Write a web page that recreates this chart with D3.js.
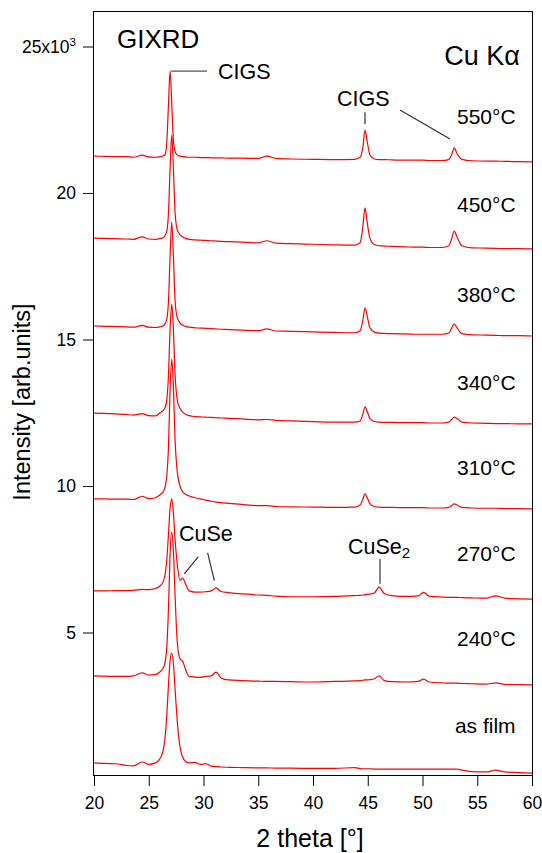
<!DOCTYPE html>
<html><head><meta charset="utf-8">
<script src="https://cdn.jsdelivr.net/npm/d3@7"></script>
<style>
body{margin:0;background:#fff}
svg{display:block}
text{font-family:"Liberation Sans",Arial,Helvetica,sans-serif;fill:#000}
</style>
</head><body><svg id="c" width="542" height="853"></svg>
<script>
// ---- data (intensity in units of 10^3 counts, curves offset as in figure) ----
const twoTheta = [20,21,22,23,23.6,24.4,25,25.6,26.0,26.3,26.5,26.65,26.8,26.95,27.1,27.25,27.4,27.6,27.85,28.1,28.35,28.7,29.2,29.7,30.2,30.7,31.15,31.6,32.3,33.5,35,35.8,36.6,38,40,42,43.8,44.3,44.55,44.75,44.95,45.2,45.6,46.05,46.5,47.2,48.5,49.6,50.1,50.6,51.8,52.4,52.65,52.9,53.15,53.6,54.5,55.8,56.7,57.5,58.8,60];

const s550 = [21.26,21.25,21.24,21.24,21.22,21.29,21.23,21.22, 21.23,21.26,21.32,21.75,23.0,24.16,23.05,21.8,21.42,21.3, 21.26,21.24,21.23,21.22,21.22,21.21,21.21,21.2,21.2,21.2, 21.19,21.19,21.18,21.26,21.18,21.16,21.15,21.14,21.15,21.22, 21.55,22.15,21.75,21.3,21.16,21.14,21.14,21.13,21.12,21.12, 21.12,21.11,21.11,21.14,21.3,21.54,21.35,21.15,21.1,21.09, 21.09,21.08,21.07,21.06];
const s450 = [18.46,18.45,18.44,18.43,18.42,18.5,18.43,18.42, 18.44,18.47,18.56,18.7,19.3,20.85,21.98,20.85,19.35,18.75, 18.58,18.5,18.45,18.42,18.4,18.39,18.38,18.37,18.36,18.35, 18.34,18.32,18.3,18.37,18.29,18.27,18.25,18.23,18.22,18.3, 18.85,19.49,19.0,18.45,18.24,18.2,18.19,18.18,18.16,18.15, 18.15,18.14,18.14,18.2,18.42,18.7,18.5,18.2,18.13,18.12, 18.11,18.1,18.1,18.09];
const s380 = [15.46,15.45,15.44,15.43,15.42,15.48,15.42,15.41, 15.43,15.46,15.55,15.7,16.3,17.85,19.01,17.85,16.35,15.75, 15.57,15.49,15.45,15.42,15.4,15.39,15.38,15.37,15.36,15.35, 15.34,15.32,15.3,15.36,15.29,15.28,15.26,15.24,15.23,15.3, 15.65,16.08,15.8,15.4,15.25,15.22,15.21,15.2,15.19,15.18, 15.18,15.18,15.18,15.22,15.38,15.53,15.4,15.2,15.16,15.15, 15.14,15.13,15.13,15.12];
const s340 = [12.49,12.48,12.46,12.44,12.42,12.47,12.4,12.39, 12.49,12.57,12.69,12.95,13.76,15.37,16.21,15.37,13.84,12.95, 12.65,12.52,12.45,12.4,12.37,12.36,12.35,12.34,12.33,12.32, 12.31,12.29,12.26,12.27,12.24,12.22,12.2,12.18,12.18,12.22, 12.45,12.7,12.55,12.3,12.2,12.18,12.17,12.17,12.16,12.16, 12.16,12.15,12.15,12.18,12.27,12.35,12.3,12.18,12.15,12.14, 12.13,12.13,12.12,12.12];
const s310 = [9.56,9.56,9.55,9.55,9.54,9.65,9.57,9.6, 9.69,9.8,9.98,10.35,11.3,13.3,14.33,13.4,11.6,10.5, 10.0,9.8,9.72,9.66,9.6,9.56,9.52,9.48,9.45,9.43, 9.41,9.37,9.33,9.33,9.3,9.29,9.28,9.27,9.28,9.35, 9.55,9.73,9.6,9.4,9.3,9.28,9.27,9.27,9.26,9.26, 9.26,9.25,9.25,9.27,9.33,9.39,9.35,9.27,9.25,9.24, 9.24,9.23,9.23,9.22];
const s270 = [6.42,6.42,6.43,6.43,6.44,6.47,6.46,6.5, 6.58,6.72,7.0,7.5,8.35,9.25,9.56,9.1,8.2,7.35, 6.78,6.86,6.66,6.42,6.38,6.38,6.39,6.42,6.52,6.4, 6.36,6.32,6.28,6.27,6.24,6.22,6.22,6.23,6.26,6.27, 6.28,6.29,6.3,6.31,6.35,6.55,6.33,6.26,6.23,6.25, 6.37,6.24,6.21,6.2,6.2,6.2,6.2,6.19,6.18,6.17, 6.25,6.17,6.15,6.14];
const s240 = [3.52,3.51,3.5,3.5,3.52,3.62,3.55,3.56, 3.65,3.78,4.0,4.5,5.8,7.7,8.43,7.8,6.3,4.7, 4.1,4.02,3.75,3.5,3.48,3.47,3.5,3.52,3.65,3.45, 3.38,3.36,3.34,3.33,3.33,3.32,3.31,3.33,3.35,3.36, 3.37,3.38,3.38,3.39,3.42,3.52,3.36,3.32,3.31,3.33, 3.41,3.31,3.28,3.27,3.27,3.27,3.27,3.26,3.25,3.24, 3.28,3.23,3.22,3.21];
const sFilm = [0.55,0.53,0.52,0.46,0.45,0.58,0.5,0.55, 0.68,0.95,1.45,2.2,3.2,4.05,4.3,3.95,3.1,2.0, 1.1,0.74,0.6,0.55,0.57,0.5,0.52,0.44,0.42,0.41, 0.4,0.39,0.38,0.38,0.37,0.37,0.36,0.36,0.39,0.36, 0.35,0.35,0.35,0.35,0.34,0.34,0.34,0.34,0.34,0.34, 0.34,0.34,0.34,0.34,0.34,0.34,0.34,0.3,0.25,0.24, 0.3,0.24,0.22,0.2];

const seriesNames = ["550°C","450°C","380°C","340°C","310°C","270°C","240°C","as film"];
const seriesValues = [s550,s450,s380,s340,s310,s270,s240,sFilm];
const xTicks = [20,25,30,35,40,45,50,55,60];
const yTicks = [5,10,15,20,25];

// ---- layout ----
const svg = d3.select("#c");
const x = d3.scaleLinear().domain([20,60]).range([94,532]);
const y = d3.scaleLinear().domain([0,25]).range([779,46.5]);
const FT = 17.5;

// frame
svg.append("rect").attr("x",93.5).attr("y",11.5).attr("width",439).attr("height",764)
  .attr("fill","none").attr("stroke","#000").attr("stroke-width",1);

// axes
const gx = svg.append("g").attr("transform","translate(0,776)")
  .call(d3.axisBottom(x).tickValues(xTicks).tickSize(10).tickPadding(11).tickFormat(d3.format("d")));
const gy = svg.append("g").attr("transform","translate(93,0)")
  .call(d3.axisLeft(y).tickValues(yTicks).tickSize(10).tickPadding(7).tickFormat(d3.format("d")));
[gx,gy].forEach(g=>{
  g.select(".domain").remove();
  g.selectAll(".tick line").attr("stroke","#000").attr("stroke-width",1);
  g.selectAll(".tick text").attr("font-size",FT).attr("font-family",null).attr("fill","#000");
});
gy.selectAll(".tick text").filter(d=>d===25).each(function(){
  const t = d3.select(this); t.text("");
  t.append("tspan").text("25x10");
  t.append("tspan").attr("dy","-0.55em").attr("font-size",11.5).text("3");
});

// axis titles
svg.append("text").attr("x",310).attr("y",847).attr("text-anchor","middle")
  .attr("font-size",25).text("2 theta [°]");
svg.append("text").attr("transform","translate(30,402) rotate(-90)").attr("text-anchor","middle")
  .attr("font-size",23.5).text("Intensity [arb.units]");

// curves
const line = d3.line().x((d,i)=>x(twoTheta[i])).y(d=>y(d)).curve(d3.curveMonotoneX);
svg.append("g").selectAll("path").data(seriesValues).join("path")
  .attr("d",line).attr("fill","none").attr("stroke","#ff0000").attr("stroke-width",1.2)
  .attr("stroke-linejoin","round");

// temperature labels (value positions)
const labelY = [22.6,19.6,16.55,13.55,10.63,7.71,4.81,1.84];
svg.append("g").selectAll("text").data(seriesNames).join("text")
  .attr("x",x(58.5)).attr("y",(d,i)=>y(labelY[i])).attr("dy","0.36em")
  .attr("text-anchor","end").attr("font-size",21).text(d=>d);

// annotations
svg.append("text").attr("x",x(22.1)).attr("y",y(24.95)).attr("font-size",26).text("GIXRD");
svg.append("text").attr("x",x(58.9)).attr("y",y(24.37)).attr("text-anchor","end").attr("font-size",27)
  .text("Cu Kα");

const ann = svg.append("g").attr("stroke","#333").attr("stroke-width",1.2).attr("fill","none");
const seg = (x1,y1,x2,y2,col)=>ann.append("line").attr("x1",x(x1)).attr("y1",y(y1)).attr("x2",x(x2)).attr("y2",y(y2)).attr("stroke",col||null);
seg(27.05,24.16,30.32,24.16,"#555");
seg(44.75,22.76,44.75,22.35);
seg(47.95,22.83,52.51,21.84);
seg(29.53,7.59,28.25,7.0);
seg(30.38,7.72,30.99,6.77);
seg(46.12,7.51,46.12,6.66);

svg.append("text").attr("x",x(31.32)).attr("y",y(23.9)).attr("font-size",21.5).text("CIGS");
svg.append("text").attr("x",x(44.6)).attr("y",y(22.97)).attr("text-anchor","middle").attr("font-size",21.5).text("CIGS");
svg.append("text").attr("x",x(27.76)).attr("y",y(8.12)).attr("font-size",21.5).text("CuSe");
const cs2 = svg.append("text").attr("x",x(43.2)).attr("y",y(7.68)).attr("font-size",21.5);
cs2.append("tspan").text("CuSe");
cs2.append("tspan").attr("dy","0.3em").attr("font-size",15).text("2");
</script>
</body></html>
